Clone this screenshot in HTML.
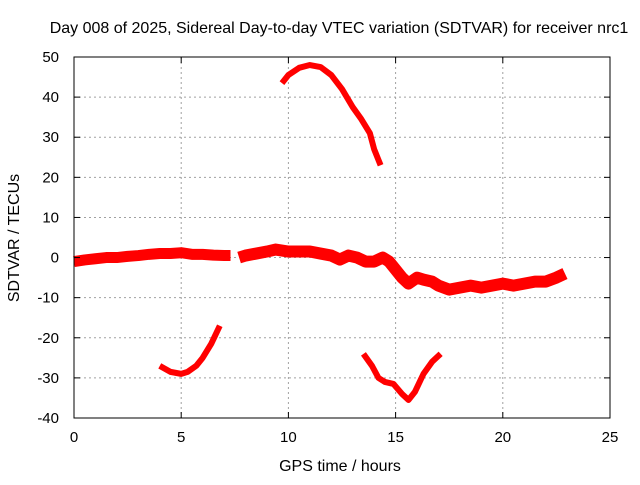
<!DOCTYPE html>
<html><head><meta charset="utf-8"><style>
body{margin:0;background:#fff}
text{font-family:"Liberation Sans",sans-serif;font-size:15px;fill:#000}
.big{font-size:16px}
</style></head><body>
<svg id="chart" width="640" height="480" xmlns="http://www.w3.org/2000/svg">
<rect width="640" height="480" fill="#fff"/>
<text class="big" x="339" y="33" text-anchor="middle">Day 008 of 2025, Sidereal Day-to-day VTEC variation (SDTVAR) for receiver nrc1</text>
<text class="big" x="340" y="471" text-anchor="middle">GPS time / hours</text>
<text class="big" transform="translate(19,238) rotate(-90)" text-anchor="middle">SDTVAR / TECUs</text>
<g id="grid"></g><g id="series"></g><g id="axes"></g>
</svg>
<script>
const xTicks=[0,5,10,15,20,25];
const yTicks=[-40,-30,-20,-10,0,10,20,30,40,50];
const mainAHours=[0,0.5,1,1.5,2,2.5,3,3.5,4,4.5,5,5.5,6,6.5,7,7.3];
const mainAValues=[-1,-0.6,-0.3,0,0,0.3,0.5,0.8,1,1,1.2,0.8,0.8,0.6,0.5,0.5];
const mainBHours=[7.7,8,8.5,9,9.4,10,10.5,11,11.5,12,12.4,12.8,13.2,13.6,14,14.4,14.7,15,15.3,15.6,16,16.3,16.7,17,17.5,18,18.5,19,19.5,20,20.5,21,21.5,22,22.5,22.9];
const mainBValues=[0,0.5,1,1.5,2,1.5,1.5,1.5,1,0.5,-0.5,0.5,0,-1,-1,0,-1,-3,-5,-6.5,-5,-5.5,-6,-7,-8,-7.5,-7,-7.5,-7,-6.5,-7,-6.5,-6,-6,-5,-4];
const arcHours=[9.7,10,10.5,11,11.5,12,12.5,13,13.4,13.8,14,14.3];
const arcValues=[43.5,45.5,47.3,48,47.5,45.5,42,37.5,34.5,31,27,23];
const lowLHours=[4,4.5,5,5.3,5.7,6,6.4,6.8];
const lowLValues=[-27,-28.5,-29,-28.5,-27,-25,-21.5,-17];
const lowRHours=[13.5,13.9,14.2,14.5,14.9,15.3,15.6,15.9,16.3,16.7,17.1];
const lowRValues=[-24,-27,-30,-31,-31.5,-34,-35.5,-33.5,-29,-26,-24];
const X0=74,X1=610,Y0=418,Y1=57;
const xs=v=>X0+(v-0)/(25-0)*(X1-X0);
const ys=v=>Y0-(v+40)/(50+40)*(Y0-Y1);
const NS="http://www.w3.org/2000/svg";
function mk(tag,attrs,parent){const e=document.createElementNS(NS,tag);for(const k in attrs)e.setAttribute(k,attrs[k]);parent.appendChild(e);return e;}
const grid=document.getElementById('grid'),axes=document.getElementById('axes'),series=document.getElementById('series');
xTicks.forEach(t=>{
 if(t>0&&t<25){const l=mk('line',{x1:xs(t),x2:xs(t),y1:Y1,y2:Y0,stroke:'#a0a0a0','stroke-dasharray':'2,3'},grid);
 
 }
 mk('line',{x1:xs(t),x2:xs(t),y1:Y0,y2:Y0-6,stroke:'#000'},axes);
 mk('line',{x1:xs(t),x2:xs(t),y1:Y1,y2:Y1+6,stroke:'#000'},axes);
 const tx=mk('text',{x:xs(t),y:Y0+24,'text-anchor':'middle'},axes);tx.textContent=t;
 
 
});
yTicks.forEach(t=>{
 if(t>-40&&t<50){const l=mk('line',{x1:X0,x2:X1,y1:ys(t),y2:ys(t),stroke:'#a0a0a0','stroke-dasharray':'2,3'},grid);
 
 }
 mk('line',{x1:X0,x2:X0+6,y1:ys(t),y2:ys(t),stroke:'#000'},axes);
 mk('line',{x1:X1,x2:X1-6,y1:ys(t),y2:ys(t),stroke:'#000'},axes);
 const tx=mk('text',{x:X0-15,y:ys(t)+5,'text-anchor':'end'},axes);tx.textContent=t;
 
 
});
const frame=mk('rect',{x:X0,y:Y1,width:X1-X0,height:Y0-Y1,fill:'none',stroke:'#000'},axes);


function draw(h,v,name,w){
 const p=mk('polyline',{points:h.map((x,i)=>xs(x)+','+ys(v[i])).join(' '),fill:'none',stroke:'#f00','stroke-width':w,'stroke-linejoin':'round'},series);
 
 
}
draw(mainAHours,mainAValues,'sdtvar-main-segment-a',11);
draw(mainBHours,mainBValues,'sdtvar-main-segment-b',12);
draw(arcHours,arcValues,'sdtvar-upper-arc',6);
draw(lowLHours,lowLValues,'sdtvar-lower-left-arc',6);
draw(lowRHours,lowRValues,'sdtvar-lower-right-arc',6);
</script>
</body></html>
